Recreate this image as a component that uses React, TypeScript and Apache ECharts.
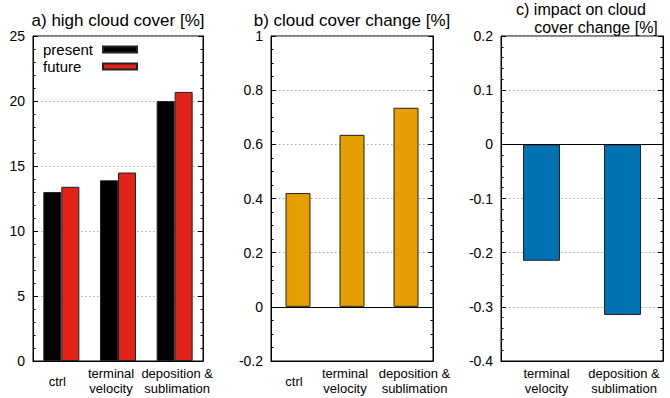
import React, { useEffect, useRef } from "react";
import * as echarts from "echarts";

const categoriesAB = ["ctrl", "terminal\nvelocity", "deposition &\nsublimation"];
const categoriesC = ["terminal\nvelocity", "deposition &\nsublimation"];
const presentValues = [13.0, 13.9, 20.0];
const futureValues = [13.4, 14.5, 20.7];
const changeValues = [0.42, 0.635, 0.735];
const impactValues = [-0.215, -0.315];
const rangeA = [0, 25, 5];
const rangeB = [-0.2, 1, 0.2];
const rangeC = [-0.4, 0.2, 0.1];
const titleA = "a) high cloud cover [%]";
const titleB = "b) cloud cover change [%]";
const titleC1 = "c) impact on cloud";
const titleC2 = "cover change [%]";

// horizontal label nudges (px), styling only
const labelShiftA = [-4, -7, 2.5];
const labelShiftB = [-4, -7, 8.5];
const labelShiftC = [5, 1.5];

const FONT = "'Liberation Sans', Arial, sans-serif";

function yAxes(gridIndex: number, range: number[], minorSplit: number) {
  const base = {
    type: "value",
    gridIndex,
    min: range[0],
    max: range[1],
    interval: range[2],
    axisLine: { show: true, lineStyle: { color: "#000", width: 1 } },
    axisTick: { show: true, inside: true, length: 5, lineStyle: { color: "#000" } },
    minorTick: { show: true, splitNumber: minorSplit, length: 2.5, lineStyle: { color: "#000" } },
  };
  return [
    {
      ...base,
      position: "left",
      axisLabel: { color: "#000", fontSize: 14, fontFamily: FONT, margin: 8 },
      splitLine: { show: true, lineStyle: { color: "#aaa", type: [1.5, 2.5], width: 1 } },
    },
    {
      ...base,
      position: "right",
      axisLabel: { show: false },
      splitLine: { show: false },
    },
  ];
}

function xAxis(gridIndex: number, data: string[], shifts: number[]) {
  return {
    type: "category",
    gridIndex,
    data: data.map((label, i) => {
      const s = shifts[i];
      return {
        value: label,
        textStyle: {
          padding: s < 0 ? [0, -2 * s, 0, 0] : [0, 0, 0, 2 * s],
          align: "center",
          verticalAlign: "middle",
        },
      };
    }),
    axisLine: { show: true, onZero: false, lineStyle: { color: "#000" } },
    axisTick: { show: false },
    axisLabel: {
      color: "#000",
      fontSize: 13,
      fontFamily: FONT,
      lineHeight: 14.5,
      margin: 20,
      align: "center",
      verticalAlign: "middle",
      interval: 0,
    },
  };
}

const zeroLine = {
  silent: true,
  symbol: "none",
  label: { show: false },
  lineStyle: { color: "#000", type: "solid", width: 1 },
  data: [{ yAxis: 0 }],
};

const titleStyle = {
  fontSize: 17,
  fontFamily: FONT,
  fill: "#000",
  align: "center",
  verticalAlign: "middle",
};

export default function App() {
  const ref = useRef<HTMLDivElement>(null);
  useEffect(() => {
    if (!ref.current) return;
    const chart = echarts.init(ref.current, undefined, { renderer: "svg" });
    const gridStyle = {
      show: true,
      borderColor: "#000",
      borderWidth: 1,
      containLabel: false,
      outerBoundsMode: "none",
    };
    chart.setOption({
      animation: false,
      backgroundColor: "#fff",
      grid: [
        { left: 33, top: 36, width: 170, height: 325, ...gridStyle },
        { left: 271, top: 36, width: 162, height: 325, ...gridStyle },
        { left: 501, top: 36, width: 162, height: 325, ...gridStyle },
      ],
      xAxis: [
        xAxis(0, categoriesAB, labelShiftA),
        xAxis(1, categoriesAB, labelShiftB),
        xAxis(2, categoriesC, labelShiftC),
      ],
      yAxis: [...yAxes(0, rangeA, 5), ...yAxes(1, rangeB, 4), ...yAxes(2, rangeC, 5)],
      legend: {
        data: ["present", "future"],
        left: 43,
        top: 41,
        padding: 0,
        orient: "vertical",
        align: "right",
        itemWidth: 34,
        itemHeight: 6,
        itemGap: 0,
        icon: "rect",
        formatter: "{a|{name}}",
        textStyle: {
          color: "#000",
          fontSize: 15,
          fontFamily: FONT,
          lineHeight: 17,
          rich: {
            a: { width: 55, align: "left", fontSize: 15, fontFamily: FONT, color: "#000", lineHeight: 17 },
          },
        },
      },
      series: [
        {
          name: "present",
          type: "bar",
          xAxisIndex: 0,
          yAxisIndex: 0,
          data: presentValues,
          barWidth: 18,
          barGap: "0%",
          itemStyle: { color: "#000", borderColor: "#222", borderWidth: 1 },
        },
        {
          name: "future",
          type: "bar",
          xAxisIndex: 0,
          yAxisIndex: 0,
          data: futureValues,
          barWidth: 18,
          barGap: "0%",
          itemStyle: { color: "#e2231a", borderColor: "#222", borderWidth: 1 },
        },
        {
          name: "change",
          type: "bar",
          xAxisIndex: 1,
          yAxisIndex: 2,
          data: changeValues,
          barWidth: 25,
          itemStyle: { color: "#e69f00", borderColor: "#222", borderWidth: 1 },
          markLine: zeroLine,
        },
        {
          name: "impact",
          type: "bar",
          xAxisIndex: 2,
          yAxisIndex: 4,
          data: impactValues,
          barWidth: 37,
          itemStyle: { color: "#0072b2", borderColor: "#222", borderWidth: 1 },
          markLine: zeroLine,
        },
      ],
      graphic: [
        { type: "text", x: 118, y: 20, style: { text: titleA, ...titleStyle } },
        { type: "text", x: 352, y: 20, style: { text: titleB, ...titleStyle } },
        { type: "text", x: 581, y: 9, style: { text: titleC1, ...titleStyle, fontSize: 16 } },
        { type: "text", x: 596, y: 27, style: { text: titleC2, ...titleStyle, fontSize: 16 } },
      ],
    });
    return () => chart.dispose();
  }, []);
  return (
    <div
      ref={ref}
      style={{ position: "fixed", left: 0, top: 0, width: 670, height: 398 }}
    />
  );
}
